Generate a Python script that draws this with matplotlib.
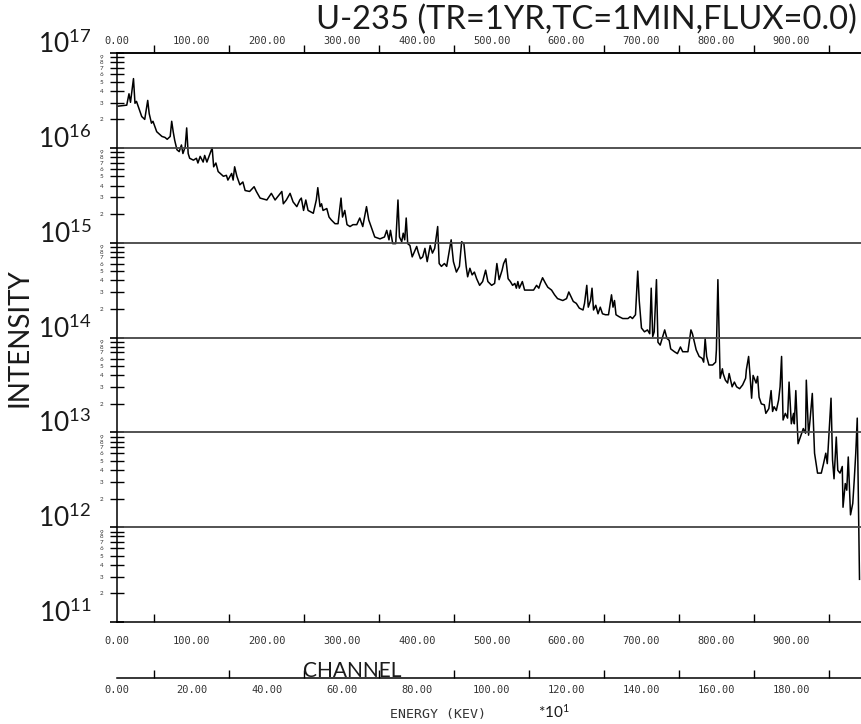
import numpy as np
import matplotlib
matplotlib.use('Agg')
import matplotlib.pyplot as plt
import matplotlib.transforms as mtransforms
from matplotlib.ticker import FixedLocator, FuncFormatter, FormatStrFormatter, NullFormatter


# spectrum: channel number and log10(intensity)
channel = [2, 13, 16, 18, 22, 24, 26, 33, 37, 41, 43, 46, 48, 53, 60, 64, 67, 71, 73, 75,
           77, 80, 83, 86, 88, 91, 93, 95, 97, 102, 106, 108, 111, 115, 117, 120, 127, 129, 132, 135,
           142, 146, 148, 153, 155, 157, 160, 164, 168, 171, 177, 183, 186, 191, 200, 206, 211, 220, 222, 226,
           231, 235, 240, 244, 246, 249, 252, 255, 262, 266, 268, 271, 273, 275, 280, 283, 286, 291, 295, 299,
           301, 304, 307, 311, 315, 320, 324, 328, 333, 336, 340, 344, 351, 357, 360, 363, 365, 368, 372, 375,
           377, 380, 382, 384, 386, 388, 391, 394, 400, 402, 405, 408, 411, 414, 418, 421, 424, 428, 430, 433,
           437, 440, 443, 446, 449, 453, 457, 460, 463, 466, 468, 471, 474, 477, 480, 484, 488, 492, 495, 500,
           504, 507, 510, 512, 514, 516, 519, 522, 525, 528, 531, 533, 535, 537, 541, 544, 553, 556, 560, 563,
           565, 568, 572, 575, 580, 584, 588, 595, 600, 603, 606, 609, 613, 617, 622, 624, 627, 629, 632, 634,
           636, 639, 642, 645, 648, 652, 656, 660, 662, 664, 666, 670, 675, 682, 685, 688, 692, 695, 697, 700,
           704, 708, 711, 713, 715, 717, 720, 722, 725, 731, 734, 737, 739, 744, 748, 752, 755, 762, 766, 768,
           773, 777, 781, 783, 785, 787, 790, 795, 799, 800, 802, 804, 805, 808, 809, 812, 815, 817, 821, 824,
           827, 831, 835, 839, 840, 843, 845, 847, 849, 853, 855, 857, 860, 864, 866, 870, 873, 875, 877, 880,
           883, 885, 887, 889, 892, 895, 897, 900, 903, 904, 906, 909, 913, 916, 919, 920, 923, 925, 928, 931,
           935, 940, 943, 946, 948, 951, 953, 955, 957, 960, 962, 965, 968, 969, 972, 974, 976, 979, 982, 984,
           986, 988, 991]
log_intensity = [16.44, 16.45, 16.57, 16.48, 16.73, 16.47, 16.49, 16.33, 16.30, 16.50, 16.36, 16.26, 16.28, 16.17, 16.12, 16.11, 16.09, 16.12, 16.28, 16.17,
                 16.08, 15.98, 15.96, 16.03, 15.94, 16.01, 16.21, 15.94, 15.89, 15.87, 15.89, 15.84, 15.91, 15.85, 15.92, 15.85, 16.00, 15.80, 15.84, 15.75,
                 15.70, 15.71, 15.66, 15.73, 15.66, 15.80, 15.70, 15.61, 15.64, 15.55, 15.54, 15.59, 15.54, 15.47, 15.45, 15.52, 15.45, 15.54, 15.41, 15.45,
                 15.52, 15.43, 15.38, 15.45, 15.47, 15.34, 15.45, 15.34, 15.31, 15.45, 15.58, 15.38, 15.41, 15.34, 15.36, 15.27, 15.24, 15.20, 15.20, 15.47,
                 15.27, 15.34, 15.19, 15.17, 15.19, 15.19, 15.26, 15.17, 15.38, 15.24, 15.15, 15.06, 15.04, 15.06, 15.13, 15.03, 15.13, 14.99, 14.99, 15.45,
                 15.06, 15.01, 15.10, 15.03, 15.26, 14.99, 14.97, 14.85, 14.96, 14.90, 14.83, 14.85, 14.94, 14.80, 14.97, 14.89, 14.94, 15.17, 14.78, 14.75,
                 14.78, 14.75, 14.89, 15.03, 14.80, 14.69, 14.75, 15.01, 14.99, 14.75, 14.64, 14.73, 14.66, 14.69, 14.62, 14.55, 14.59, 14.71, 14.59, 14.55,
                 14.57, 14.78, 14.61, 14.66, 14.71, 14.78, 14.83, 14.62, 14.59, 14.55, 14.57, 14.52, 14.59, 14.52, 14.59, 14.50, 14.50, 14.50, 14.55, 14.52,
                 14.57, 14.63, 14.57, 14.53, 14.50, 14.45, 14.41, 14.39, 14.41, 14.48, 14.43, 14.38, 14.36, 14.31, 14.29, 14.36, 14.55, 14.32, 14.39, 14.52,
                 14.29, 14.34, 14.25, 14.32, 14.25, 14.24, 14.24, 14.45, 14.32, 14.39, 14.24, 14.22, 14.20, 14.20, 14.22, 14.20, 14.24, 14.70, 14.39, 14.10,
                 14.06, 14.08, 14.04, 14.52, 14.01, 14.06, 14.61, 13.95, 13.92, 14.08, 13.99, 13.97, 13.88, 13.85, 13.83, 13.90, 13.85, 13.85, 14.08, 14.04,
                 13.87, 13.80, 13.78, 13.74, 13.99, 13.80, 13.71, 13.71, 13.74, 13.87, 14.61, 13.94, 13.57, 13.67, 13.62, 13.55, 13.52, 13.62, 13.48, 13.53,
                 13.48, 13.46, 13.50, 13.57, 13.66, 13.80, 13.59, 13.36, 13.60, 13.52, 13.59, 13.37, 13.30, 13.29, 13.20, 13.25, 13.44, 13.22, 13.27, 13.23,
                 13.34, 13.48, 13.80, 13.13, 13.20, 13.15, 13.53, 13.09, 13.20, 13.09, 13.44, 12.88, 12.97, 13.04, 12.99, 13.55, 12.97, 13.13, 13.41, 12.78,
                 12.57, 12.57, 12.67, 12.78, 12.67, 13.09, 13.36, 12.71, 12.51, 12.95, 12.60, 12.57, 12.64, 12.21, 12.46, 12.39, 12.74, 12.13, 12.25, 12.50,
                 12.78, 13.15, 11.45]

title = 'U-235 (TR=1YR,TC=1MIN,FLUX=0.0)'
decades = [11, 12, 13, 14, 15, 16, 17]
grid_decades = [12, 13, 14, 15, 16]
chan_labels = np.arange(0, 1000, 100)
chan_minor = np.arange(50, 1000, 100)
energy_labels = np.arange(0, 200, 20)
energy_minor = np.arange(10, 200, 20)
chan_max = 993.0

plt.rcParams['font.family'] = ['Lato', 'DejaVu Sans']
plt.rcParams['mathtext.fontset'] = 'custom'
plt.rcParams['mathtext.rm'] = 'Lato'
plt.rcParams['mathtext.it'] = 'Lato'

mono = ['DejaVu Sans Mono']
ink = '#1a1a1a'
tick_ink = '#333333'

fig = plt.figure(figsize=(8.62, 7.24), dpi=100)
L, B, W, H = 117/862, 1 - 622/724, 744/862, 569/724
ax = fig.add_axes([L, B, W, H])

intensity = 10.0 ** np.array(log_intensity)
ax.plot(channel, intensity, color='black', lw=1.1)
ax.set_yscale('log')
ax.set_ylim(10.0**11, 10.0**17)
ax.set_xlim(0, chan_max)

for d in grid_decades:
    ax.axhline(10.0**d, color='#444444', lw=1.3)

ax.spines['right'].set_visible(False)
for s in ax.spines.values():
    s.set_linewidth(1.1)

# y axis: crossing minor ticks with tiny mantissa digits, big 10^n labels
ax.yaxis.set_major_locator(FixedLocator([10.0**d for d in decades]))
ax.yaxis.set_major_formatter(NullFormatter())
minor_y = [m * 10.0**d for d in decades[:-1] for m in range(2, 10)]
ax.yaxis.set_minor_locator(FixedLocator(minor_y))
ax.yaxis.set_minor_formatter(FuncFormatter(lambda v, p: '%d' % round(v / 10.0**np.floor(np.log10(v) + 1e-9))))
ax.tick_params(axis='y', which='major', direction='inout', length=10, width=1.2)
ax.tick_params(axis='y', which='minor', direction='inout', length=10, width=1.0,
               labelsize=4.5, pad=5, labelcolor=tick_ink)

trans = mtransforms.blended_transform_factory(ax.transAxes, ax.transData)
for d in decades:
    ax.text(-0.034, 10.0**d, r'$10^{%d}$' % d, transform=trans, ha='right', va='baseline',
            fontsize=19, color=ink)

ax.set_ylabel('INTENSITY', fontsize=20, labelpad=48, color=ink)

# channel axis bottom
ax.xaxis.set_major_locator(FixedLocator(chan_labels))
ax.xaxis.set_major_formatter(FormatStrFormatter('%.2f'))
ax.xaxis.set_minor_locator(FixedLocator(chan_minor))
ax.tick_params(axis='x', which='major', length=0, labelsize=7.5, pad=10, labelcolor=tick_ink)
ax.tick_params(axis='x', which='minor', direction='in', length=6, width=1.0)
for lab in ax.get_xticklabels():
    lab.set_family(mono)

# channel axis top
axt = ax.twiny()
axt.set_xlim(0, chan_max)
for k in ['left', 'right', 'bottom']:
    axt.spines[k].set_visible(False)
axt.spines['top'].set_linewidth(1.1)
axt.xaxis.set_major_locator(FixedLocator(chan_labels))
axt.xaxis.set_major_formatter(FormatStrFormatter('%.2f'))
axt.xaxis.set_minor_locator(FixedLocator(chan_minor))
axt.tick_params(axis='x', which='major', length=0, labelsize=7.5, pad=5, labelcolor=tick_ink)
axt.tick_params(axis='x', which='minor', direction='out', length=6, width=1.0)
for lab in axt.get_xticklabels():
    lab.set_family(mono)

# energy axis
axe = fig.add_axes([L, 1 - 678/724, W, 0.0001])
axe.set_xlim(0, chan_max / 5)
for k in ['left', 'right', 'top']:
    axe.spines[k].set_visible(False)
axe.spines['bottom'].set_linewidth(1.1)
axe.set_yticks([])
axe.xaxis.set_major_locator(FixedLocator(energy_labels))
axe.xaxis.set_major_formatter(FormatStrFormatter('%.2f'))
axe.xaxis.set_minor_locator(FixedLocator(energy_minor))
axe.tick_params(axis='x', which='major', length=0, labelsize=7.5, pad=5, labelcolor=tick_ink)
axe.tick_params(axis='x', which='minor', direction='in', length=6, width=1.0)
for lab in axe.get_xticklabels():
    lab.set_family(mono)

fig.text(857/862, 1 - 29/724, title, ha='right', va='baseline', fontsize=23.5, color=ink)
fig.text(303/862, 1 - 677/724, 'CHANNEL', ha='left', va='baseline', fontsize=15, color=ink)
fig.text(390/862, 1 - 718/724, 'ENERGY (KEV)', ha='left', va='baseline', fontsize=9.5,
         family=mono, color=tick_ink)
fig.text(538/862, 1 - 718/724, r'*10$^{1}$', ha='left', va='baseline', fontsize=11, color=ink)

fig.savefig('out.png', dpi=100)
